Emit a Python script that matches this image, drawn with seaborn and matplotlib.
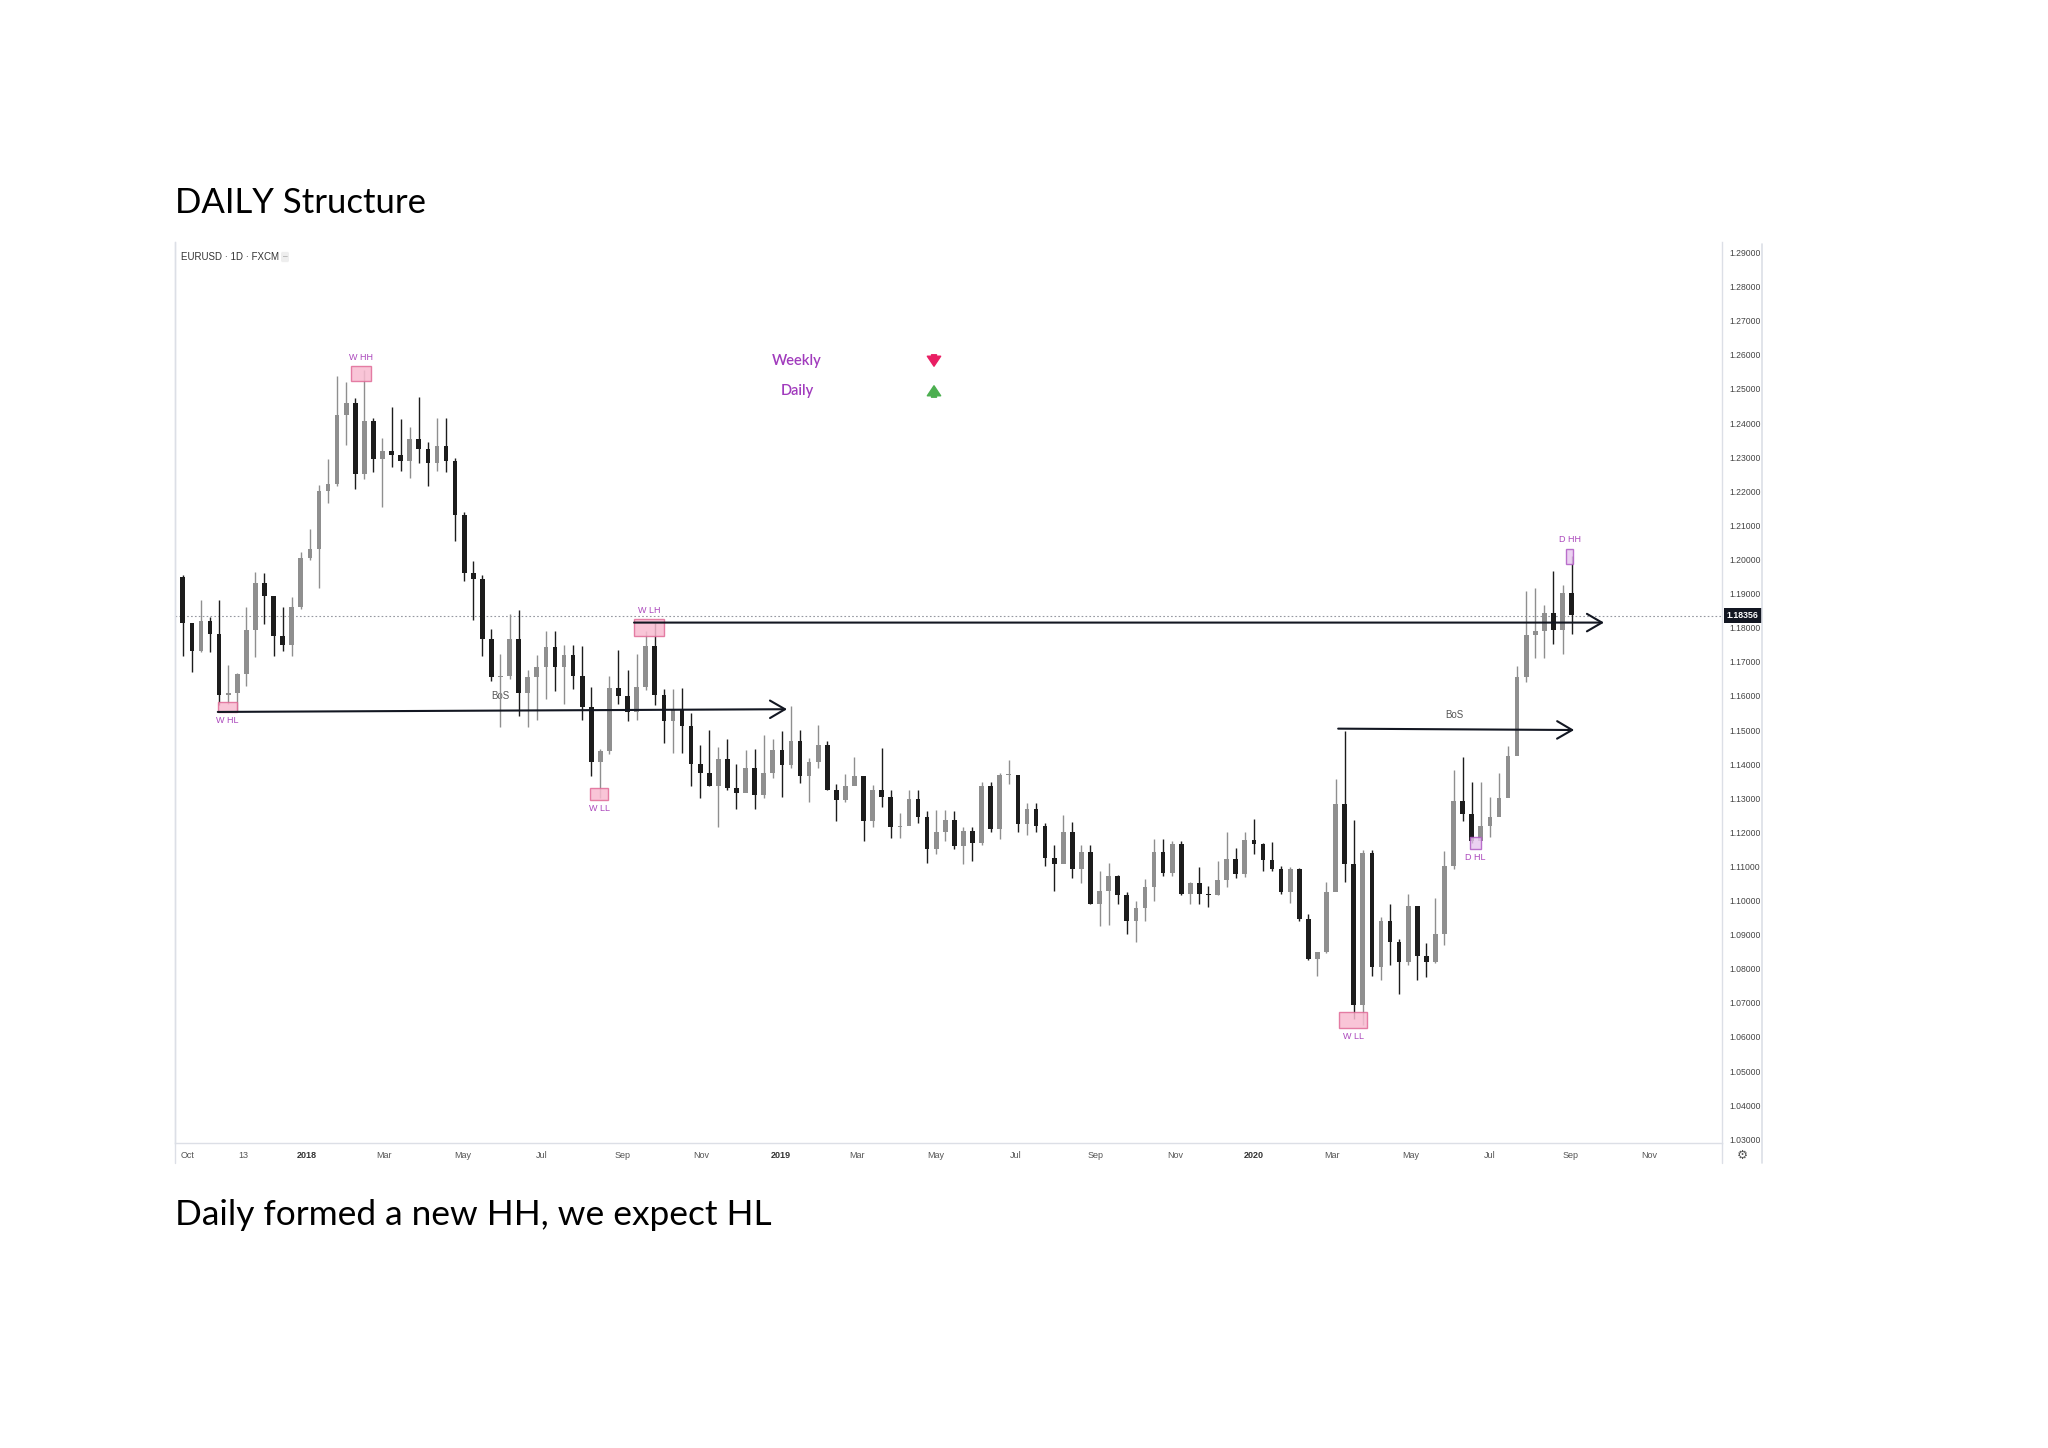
import numpy as np
import pandas as pd
import seaborn as sns
import matplotlib.pyplot as plt
import matplotlib.dates as mdates
from matplotlib.patches import Rectangle, FancyArrowPatch
from matplotlib.lines import Line2D
from matplotlib.transforms import blended_transform_factory

# weekly candles (Sep 2017 - Sep 2020)
week_start = pd.date_range('2017-09-18', periods=155, freq='W-MON')
first_open = 1.1920
close = [
    1.1950, 1.1813, 1.1733, 1.1819, 1.1782, 1.1604, 1.1609, 1.1665, 1.1794, 1.1930,
    1.1894, 1.1775, 1.1749, 1.1861, 1.2005,
    # 2018
    1.2030, 1.2200, 1.2222, 1.2425, 1.2460, 1.2252, 1.2407, 1.2294, 1.2319, 1.2307,
    1.2288, 1.2353, 1.2324, 1.2282, 1.2333, 1.2288, 1.2130, 1.1960, 1.1942, 1.1768,
    1.1654, 1.1658, 1.1768, 1.1609, 1.1656, 1.1684, 1.1744, 1.1685, 1.1720, 1.1657,
    1.1567, 1.1407, 1.1438, 1.1624, 1.1601, 1.1553, 1.1625, 1.1746, 1.1604, 1.1525,
    1.1560, 1.1512, 1.1401, 1.1373, 1.1336, 1.1416, 1.1330, 1.1314, 1.1389, 1.1309,
    1.1375, 1.1442,
    # 2019
    1.1396, 1.1468, 1.1365, 1.1406, 1.1455, 1.1325, 1.1296, 1.1337, 1.1366, 1.1234,
    1.1324, 1.1303, 1.1216, 1.1218, 1.1298, 1.1244, 1.1150, 1.1202, 1.1235, 1.1159,
    1.1205, 1.1168, 1.1335, 1.1209, 1.1367, 1.1369, 1.1224, 1.1268, 1.1220, 1.1124,
    1.1108, 1.1201, 1.1093, 1.1143, 1.0991, 1.1027, 1.1073, 1.1016, 1.0940, 1.0978,
    1.1041, 1.1143, 1.1081, 1.1165, 1.1020, 1.1051, 1.1020, 1.1017, 1.1059, 1.1121,
    1.1078, 1.1178,
    # 2020
    1.1166, 1.1120, 1.1091, 1.1026, 1.1093, 1.0945, 1.0830, 1.0848, 1.1025, 1.1284,
    1.1107, 1.0693, 1.1140, 1.0806, 1.0939, 1.0877, 1.0820, 1.0983, 1.0838, 1.0819,
    1.0902, 1.1101, 1.1292, 1.1255, 1.1175, 1.1219, 1.1246, 1.1300, 1.1425, 1.1656,
    1.1778, 1.1789, 1.1842, 1.1794, 1.1903, 1.1836,
]
high = [
    1.2034, 1.1954, 1.1791, 1.1880, 1.1832, 1.1880, 1.1690, 1.1667, 1.1861, 1.1962,
    1.1961, 1.1864, 1.1862, 1.1889, 1.2023,
    1.2089, 1.2219, 1.2296, 1.2537, 1.2520, 1.2475, 1.2556, 1.2415, 1.2355, 1.2446,
    1.2413, 1.2388, 1.2476, 1.2344, 1.2414, 1.2414, 1.2297, 1.2139, 1.1996, 1.1956,
    1.1797, 1.1724, 1.1840, 1.1852, 1.1676, 1.1720, 1.1791, 1.1791, 1.1750, 1.1750,
    1.1745, 1.1625, 1.1443, 1.1657, 1.1734, 1.1675, 1.1722, 1.1790, 1.1815, 1.1620,
    1.1621, 1.1622, 1.1549, 1.1456, 1.1500, 1.1450, 1.1473, 1.1400, 1.1442, 1.1443,
    1.1486, 1.1473,
    1.1497, 1.1570, 1.1499, 1.1417, 1.1514, 1.1469, 1.1342, 1.1372, 1.1420, 1.1357,
    1.1338, 1.1448, 1.1325, 1.1256, 1.1324, 1.1324, 1.1262, 1.1265, 1.1264, 1.1263,
    1.1217, 1.1216, 1.1348, 1.1348, 1.1375, 1.1412, 1.1360, 1.1286, 1.1286, 1.1227,
    1.1162, 1.1250, 1.1230, 1.1163, 1.1164, 1.1086, 1.1109, 1.1075, 1.1025, 1.0999,
    1.1063, 1.1179, 1.1179, 1.1175, 1.1176, 1.1055, 1.1097, 1.1043, 1.1117, 1.1200,
    1.1154, 1.1200,
    1.1239, 1.1170, 1.1173, 1.1100, 1.1097, 1.1095, 1.0960, 1.0850, 1.1053, 1.1355,
    1.1496, 1.1237, 1.1147, 1.1147, 1.0953, 1.0991, 1.0887, 1.1019, 1.0985, 1.0875,
    1.1008, 1.1145, 1.1384, 1.1422, 1.1349, 1.1349, 1.1303, 1.1375, 1.1452, 1.1689,
    1.1909, 1.1916, 1.1866, 1.1966, 1.1925, 1.2011,
]
low = [
    1.1861, 1.1717, 1.1669, 1.1730, 1.1730, 1.1574, 1.1575, 1.1554, 1.1630, 1.1715,
    1.1812, 1.1717, 1.1732, 1.1718, 1.1855,
    1.1998, 1.1916, 1.2165, 1.2215, 1.2335, 1.2206, 1.2235, 1.2258, 1.2155, 1.2272,
    1.2259, 1.2240, 1.2284, 1.2215, 1.2260, 1.2258, 1.2055, 1.1938, 1.1823, 1.1717,
    1.1644, 1.1510, 1.1650, 1.1541, 1.1508, 1.1528, 1.1590, 1.1613, 1.1575, 1.1620,
    1.1529, 1.1366, 1.1301, 1.1430, 1.1575, 1.1525, 1.1530, 1.1618, 1.1574, 1.1462,
    1.1432, 1.1432, 1.1335, 1.1302, 1.1335, 1.1216, 1.1325, 1.1267, 1.1317, 1.1269,
    1.1300, 1.1360,
    1.1305, 1.1390, 1.1346, 1.1289, 1.1390, 1.1323, 1.1234, 1.1289, 1.1353, 1.1176,
    1.1216, 1.1273, 1.1183, 1.1183, 1.1226, 1.1226, 1.1111, 1.1135, 1.1175, 1.1150,
    1.1107, 1.1116, 1.1162, 1.1202, 1.1181, 1.1343, 1.1202, 1.1192, 1.1200, 1.1101,
    1.1027, 1.1151, 1.1067, 1.1052, 1.0989, 1.0926, 1.0927, 1.0990, 1.0903, 1.0879,
    1.0940, 1.1000, 1.1072, 1.1072, 1.1016, 1.0989, 1.0990, 1.0981, 1.1015, 1.1040,
    1.1065, 1.1070,
    1.1135, 1.1086, 1.1086, 1.1019, 1.0992, 1.0941, 1.0827, 1.0778, 1.0845, 1.1052,
    1.1054, 1.0654, 1.0636, 1.0780, 1.0768, 1.0812, 1.0727, 1.0812, 1.0766, 1.0775,
    1.0816, 1.0870, 1.1093, 1.1233, 1.1168, 1.1188, 1.1185, 1.1254, 1.1370, 1.1429,
    1.1641, 1.1710, 1.1711, 1.1753, 1.1722, 1.1782,
]
last_price = 1.18356

# y axis and x axis labels
price_ticks = [round(1.03 + 0.01 * i, 2) for i in range(27)]
month_ticks = ['2017-10-01', '2017-11-13', '2018-01-01', '2018-03-01', '2018-05-01',
               '2018-07-01', '2018-09-01', '2018-11-01', '2019-01-01', '2019-03-01',
               '2019-05-01', '2019-07-01', '2019-09-01', '2019-11-01', '2020-01-01',
               '2020-03-01', '2020-05-01', '2020-07-01', '2020-09-01', '2020-11-01']
month_labels = ['Oct', '13', '2018', 'Mar', 'May', 'Jul', 'Sep', 'Nov', '2019', 'Mar',
                'May', 'Jul', 'Sep', 'Nov', '2020', 'Mar', 'May', 'Jul', 'Sep', 'Nov']

# structure boxes: label, start, end, low, high, kind
boxes = [
    ('W HH', '2018-02-04', '2018-02-19', 1.2523, 1.2568, 'W'),
    ('W HL', '2017-10-24', '2017-11-08', 1.1553, 1.1582, 'W'),
    ('W LL', '2018-08-07', '2018-08-21', 1.1296, 1.1330, 'W'),
    ('W LH', '2018-09-10', '2018-10-03', 1.1776, 1.1826, 'W'),
    ('W LL', '2020-03-07', '2020-03-28', 1.0627, 1.0674, 'W'),
    ('D HL', '2020-06-16', '2020-06-24', 1.1151, 1.1186, 'D'),
    ('D HH', '2020-08-29', '2020-09-03', 1.1987, 1.2032, 'D'),
]
# label position relative to box: above or below
box_label_side = ['above', 'below', 'below', 'above', 'below', 'below', 'above']

# break-of-structure arrows: start date, start price, end date, end price
bos_lines = [
    ('2017-10-24', 1.1553, '2019-01-06', 1.1561),
    ('2018-09-10', 1.1815, '2020-09-27', 1.1815),
    ('2020-03-06', 1.1504, '2020-09-04', 1.1500),
]
bos_labels = [('2018-05-30', 1.1586), ('2020-06-04', 1.1528)]

# ---------------------------------------------------------------------------
sns.set_theme(style='white')
plt.rcParams['font.family'] = ['Liberation Sans', 'DejaVu Sans']

W, H = 2048, 1448
fig = plt.figure(figsize=(W / 100, H / 100), dpi=100)
fig.patch.set_facecolor('white')


def fx(x):
    return x / W


def fy(y):
    return 1 - y / H


ax = fig.add_axes([fx(175), fy(1143), fx(1722) - fx(175), fy(242) - fy(1143)])
ax.set_facecolor('white')

df = pd.DataFrame({'date': week_start, 'high': high, 'low': low, 'close': close})
df['open'] = [first_open] + close[:-1]
df['x'] = mdates.date2num(df['date'] + pd.Timedelta(days=2))
df['up'] = df['close'] >= df['open']
up_col, dn_col = '#8f8f8f', '#1c1c1c'
colors = np.where(df['up'], up_col, dn_col)

ax.vlines(df['x'], df['low'], df['high'], colors=colors, lw=1.0, zorder=3)
body_lo = np.minimum(df['open'], df['close'])
body_h = np.maximum(np.abs(df['close'] - df['open']), 0.0003)
ax.bar(df['x'], body_h, bottom=body_lo, width=3.6, color=colors, linewidth=0, zorder=4)

# current price dotted line
ax.axhline(last_price, color='#9598a1', lw=0.8, ls=(0, (1.5, 2)), zorder=1)

# boxes
for (lab, d0, d1, lo, hi, kind), side in zip(boxes, box_label_side):
    x0 = mdates.date2num(pd.Timestamp(d0))
    x1 = mdates.date2num(pd.Timestamp(d1))
    if kind == 'W':
        fc, ec = '#f8bbd0', '#e06b97'
    else:
        fc, ec = '#e8c9ef', '#b05ac4'
    ax.add_patch(Rectangle((x0, lo), x1 - x0, hi - lo, facecolor=fc, edgecolor=ec,
                           lw=1.0, alpha=0.85, zorder=5))
    xc = (x0 + x1) / 2
    if side == 'above':
        ax.text(xc, hi + 0.0012, lab, ha='center', va='bottom', fontsize=6.5,
                color='#ab47bc', zorder=6)
    else:
        ax.text(xc, lo - 0.0012, lab, ha='center', va='top', fontsize=6.5,
                color='#ab47bc', zorder=6)

# arrows
for d0, p0, d1, p1 in bos_lines:
    ax.annotate('', xy=(mdates.date2num(pd.Timestamp(d1)), p1),
                xytext=(mdates.date2num(pd.Timestamp(d0)), p0),
                arrowprops=dict(arrowstyle='->,head_length=0.6,head_width=0.35',
                                lw=1.5, color='#131722',
                                mutation_scale=18, shrinkA=0, shrinkB=0),
                zorder=6)
for d, p in bos_labels:
    ax.text(mdates.date2num(pd.Timestamp(d)), p, 'BoS', ha='center', va='bottom',
            fontsize=7, color='#555555', zorder=2)

# axes limits and ticks
ax.set_xlim(mdates.date2num(pd.Timestamp('2017-09-21')),
            mdates.date2num(pd.Timestamp('2020-12-27')))
ax.set_ylim(1.0289, 1.2931)
ax.yaxis.tick_right()
ax.set_yticks(price_ticks)
ax.set_yticklabels([f'{t:.5f}' for t in price_ticks])
ax.set_xticks(mdates.date2num(pd.to_datetime(month_ticks)))
ax.set_xticklabels(month_labels)
ax.tick_params(axis='y', length=0, pad=5, labelsize=6.2, colors='#444444')
ax.tick_params(axis='x', length=0, pad=6, labelsize=6.5, colors='#555555')
for lbl in ax.get_xticklabels():
    if lbl.get_text() in ('2018', '2019', '2020'):
        lbl.set_fontweight('bold')
        lbl.set_color('#333333')
ax.grid(False)
ax.spines['top'].set_visible(False)
for s in ['left', 'bottom', 'right']:
    ax.spines[s].set_color('#dcdfe6')
    ax.spines[s].set_linewidth(1.0)

# price tag
tr = blended_transform_factory(ax.transAxes, ax.transData)
ax.text(1.003, last_price, '1.18356', transform=tr, ha='left', va='center',
        fontsize=6.3, color='white', fontweight='bold', zorder=10,
        bbox=dict(boxstyle='square,pad=0.35', fc='#131722', ec='none'))

# frame lines of the chart widget
fig.add_artist(Line2D([fx(175), fx(175)], [fy(242), fy(1163)], color='#dcdfe6', lw=1))
fig.add_artist(Line2D([fx(1762), fx(1762)], [fy(244), fy(1163)], color='#dcdfe6', lw=1.2))
fig.add_artist(Line2D([fx(1722), fx(1722)], [fy(1143), fy(1163)], color='#dcdfe6', lw=1))
fig.text(fx(1742), fy(1155), '\u2699', ha='center', va='center', fontsize=9,
         color='#555555', family='DejaVu Sans')

# chart header
fig.text(fx(181), fy(257), 'EURUSD \u00b7 1D \u00b7 FXCM', ha='left', va='center',
         fontsize=7, color='#333333')
fig.text(fx(285), fy(257), '\u2013', ha='center', va='center', fontsize=6,
         color='#888888',
         bbox=dict(boxstyle='round,pad=0.2', fc='#eeeeee', ec='none'))

# trend legend
fig.text(fx(797), fy(361), 'Weekly', ha='center', va='center', fontsize=10.5,
         color='#a13bbd', fontweight='semibold', family=['Lato', 'DejaVu Sans'])
fig.text(fx(797), fy(391), 'Daily', ha='center', va='center', fontsize=10.5,
         color='#a13bbd', fontweight='semibold', family=['Lato', 'DejaVu Sans'])
arrow_style = 'simple,head_width=0.8,head_length=0.6,tail_width=0.3'
fig.add_artist(FancyArrowPatch(
    (934, H - 352), (934, H - 369), arrowstyle=arrow_style, mutation_scale=12,
    color='#e91e63', transform=None))
fig.add_artist(FancyArrowPatch(
    (934, H - 400), (934, H - 383), arrowstyle=arrow_style, mutation_scale=12,
    color='#4caf50', transform=None))

# page texts
fig.text(fx(175), fy(213), 'DAILY Structure', ha='left', va='baseline', fontsize=25,
         color='black', family=['Lato', 'DejaVu Sans'])
fig.text(fx(175), fy(1225), 'Daily formed a new HH, we expect HL', ha='left',
         va='baseline', fontsize=25.4, color='black', family=['Lato', 'DejaVu Sans'])

fig.savefig('out.png', dpi=100, facecolor='white')
